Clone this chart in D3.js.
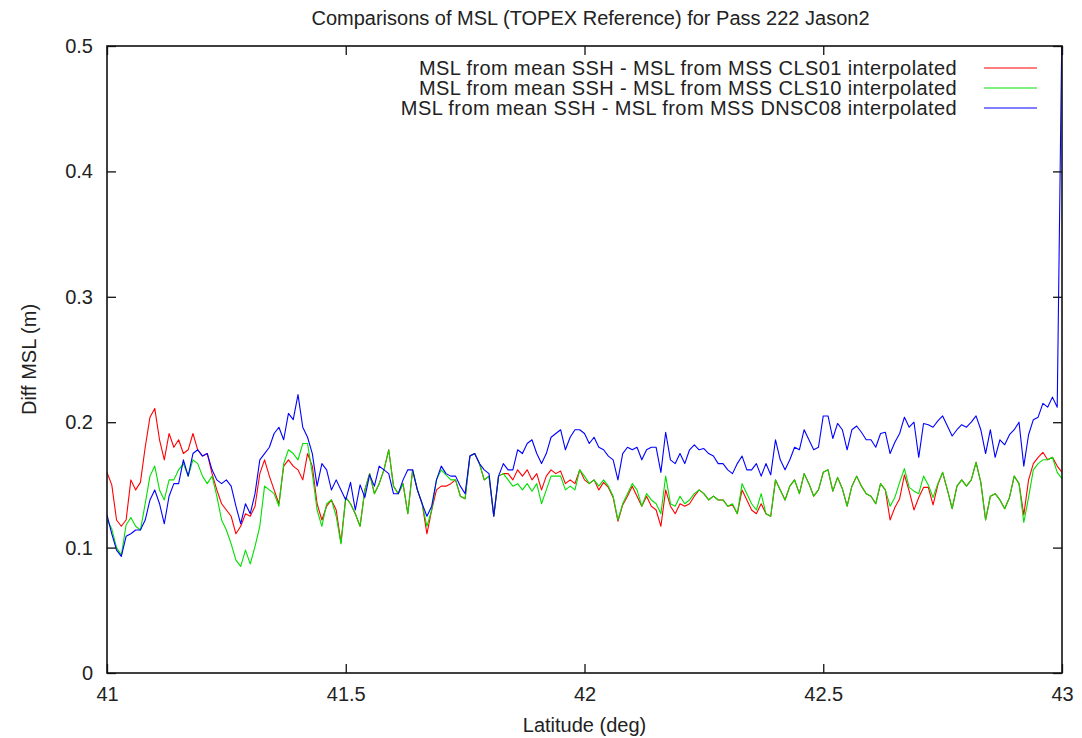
<!DOCTYPE html>
<html>
<head>
<meta charset="utf-8">
<script src="https://cdn.jsdelivr.net/npm/d3@7"></script>
<style>
  html, body { margin: 0; padding: 0; background: #fff; }
  svg { display: block; }
  text { font-family: "Liberation Sans", Arial, Helvetica, sans-serif; fill: #222; }
</style>
</head>
<body>
<svg id="chart" width="1082" height="738"></svg>
<script>
// Along-track latitude samples (deg), 0.01 deg spacing from 41 to 43
const latitudes = d3.range(201).map(i => +(41 + i * 0.01).toFixed(2));

// MSL from mean SSH minus MSL from MSS CLS01 interpolated (m)
const diffCLS01 = [
  0.160, 0.150, 0.122, 0.117, 0.122, 0.154, 0.146, 0.152, 0.180, 0.204,
  0.211, 0.186, 0.170, 0.191, 0.180, 0.186, 0.175, 0.178, 0.191, 0.178,
  0.173, 0.175, 0.159, 0.146, 0.135, 0.130, 0.125, 0.111, 0.117, 0.127,
  0.125, 0.133, 0.159, 0.170, 0.157, 0.146, 0.135, 0.165, 0.170, 0.165,
  0.162, 0.154, 0.175, 0.165, 0.135, 0.122, 0.133, 0.138, 0.130, 0.104,
  0.140,
  0.135, 0.127, 0.117, 0.146, 0.159, 0.143, 0.151, 0.162, 0.178, 0.149,
  0.143, 0.151, 0.127, 0.162, 0.146, 0.135, 0.111, 0.130, 0.146, 0.149,
  0.149, 0.151, 0.154, 0.141, 0.139, 0.173, 0.175, 0.167, 0.154, 0.157,
  0.125, 0.157, 0.159, 0.159, 0.154, 0.162, 0.157, 0.162, 0.154, 0.159,
  0.146, 0.157, 0.162, 0.159, 0.161, 0.151, 0.154, 0.151, 0.162, 0.154,
  0.151, 0.154, 0.146, 0.152, 0.148, 0.140, 0.121, 0.134, 0.141, 0.149,
  0.141, 0.133, 0.141, 0.133, 0.130, 0.117, 0.146, 0.133, 0.127, 0.135,
  0.133, 0.135, 0.141, 0.146, 0.143, 0.138, 0.141, 0.138, 0.138, 0.133,
  0.134, 0.127, 0.146, 0.138, 0.130, 0.127, 0.135, 0.127, 0.125, 0.154,
  0.146, 0.138, 0.149, 0.154, 0.143, 0.159, 0.151, 0.141, 0.146, 0.160,
  0.162, 0.145, 0.156, 0.147, 0.133, 0.149, 0.157, 0.149, 0.143, 0.141,
  0.135, 0.151, 0.146, 0.122, 0.132, 0.139, 0.158, 0.145, 0.130, 0.140,
  0.148, 0.148, 0.134, 0.150, 0.160, 0.146, 0.131, 0.149, 0.154, 0.149,
  0.154, 0.168, 0.152, 0.122, 0.141, 0.143, 0.138, 0.131, 0.140, 0.157,
  0.151, 0.126, 0.154, 0.167, 0.172, 0.176, 0.170, 0.172, 0.165, 0.160
];

// MSL from mean SSH minus MSL from MSS CLS10 interpolated (m)
const diffCLS10 = [
  0.122, 0.115, 0.100, 0.094, 0.118, 0.124, 0.117, 0.114, 0.135, 0.157,
  0.165, 0.146, 0.138, 0.154, 0.154, 0.162, 0.167, 0.157, 0.170, 0.167,
  0.157, 0.151, 0.157, 0.141, 0.122, 0.114, 0.103, 0.090, 0.085, 0.098,
  0.087, 0.101, 0.117, 0.149, 0.146, 0.143, 0.133, 0.167, 0.178, 0.175,
  0.170, 0.183, 0.183, 0.159, 0.130, 0.117, 0.135, 0.138, 0.125, 0.103,
  0.140,
  0.135, 0.127, 0.117, 0.146, 0.159, 0.143, 0.151, 0.162, 0.178, 0.149,
  0.143, 0.151, 0.127, 0.162, 0.146, 0.135, 0.117, 0.130, 0.154, 0.162,
  0.158, 0.154, 0.154, 0.141, 0.139, 0.173, 0.175, 0.167, 0.154, 0.157,
  0.125, 0.157, 0.159, 0.154, 0.149, 0.151, 0.146, 0.151, 0.145, 0.151,
  0.135, 0.146, 0.157, 0.157, 0.157, 0.146, 0.149, 0.146, 0.162, 0.157,
  0.151, 0.154, 0.149, 0.154, 0.149, 0.141, 0.122, 0.135, 0.143, 0.151,
  0.146, 0.133, 0.143, 0.138, 0.135, 0.127, 0.157, 0.135, 0.133, 0.141,
  0.135, 0.138, 0.143, 0.146, 0.143, 0.138, 0.141, 0.138, 0.138, 0.133,
  0.135, 0.127, 0.151, 0.143, 0.135, 0.130, 0.143, 0.127, 0.125, 0.154,
  0.146, 0.138, 0.149, 0.154, 0.143, 0.159, 0.151, 0.141, 0.146, 0.160,
  0.162, 0.145, 0.156, 0.147, 0.133, 0.149, 0.157, 0.149, 0.143, 0.141,
  0.135, 0.151, 0.146, 0.133, 0.140, 0.152, 0.163, 0.148, 0.145, 0.143,
  0.157, 0.150, 0.140, 0.151, 0.160, 0.146, 0.131, 0.149, 0.154, 0.149,
  0.154, 0.168, 0.152, 0.122, 0.141, 0.143, 0.138, 0.131, 0.140, 0.157,
  0.151, 0.120, 0.140, 0.162, 0.167, 0.170, 0.170, 0.172, 0.160, 0.155
];

// MSL from mean SSH minus MSL from MSS DNSC08 interpolated (m)
const diffDNSC08 = [
  0.126, 0.111, 0.098, 0.093, 0.109, 0.111, 0.114, 0.114, 0.122, 0.138,
  0.146, 0.135, 0.119, 0.141, 0.151, 0.151, 0.170, 0.157, 0.175, 0.178,
  0.173, 0.175, 0.162, 0.154, 0.151, 0.154, 0.149, 0.133, 0.119, 0.135,
  0.127, 0.143, 0.170, 0.175, 0.180, 0.191, 0.196, 0.186, 0.207, 0.202,
  0.222, 0.196, 0.188, 0.175, 0.149, 0.167, 0.162, 0.146, 0.154, 0.146,
  0.138,
  0.152, 0.130, 0.150, 0.140, 0.158, 0.149, 0.165, 0.162, 0.159, 0.143,
  0.143, 0.154, 0.162, 0.162, 0.146, 0.135, 0.125, 0.133, 0.154, 0.165,
  0.159, 0.157, 0.157, 0.149, 0.143, 0.173, 0.175, 0.167, 0.162, 0.159,
  0.125, 0.157, 0.167, 0.162, 0.162, 0.178, 0.175, 0.183, 0.186, 0.175,
  0.167, 0.175, 0.188, 0.191, 0.194, 0.178, 0.188, 0.194, 0.194, 0.191,
  0.183, 0.188, 0.180, 0.178, 0.173, 0.170, 0.154, 0.175, 0.180, 0.178,
  0.180, 0.170, 0.178, 0.180, 0.180, 0.160, 0.192, 0.170, 0.167, 0.175,
  0.167, 0.178, 0.182, 0.178, 0.179, 0.175, 0.173, 0.167, 0.167, 0.162,
  0.159, 0.167, 0.173, 0.162, 0.162, 0.167, 0.157, 0.167, 0.158, 0.186,
  0.170, 0.162, 0.170, 0.180, 0.178, 0.194, 0.186, 0.178, 0.180, 0.205,
  0.205, 0.187, 0.199, 0.194, 0.178, 0.194, 0.197, 0.192, 0.186, 0.186,
  0.180, 0.191, 0.192, 0.175, 0.184, 0.191, 0.204, 0.196, 0.200, 0.172,
  0.199, 0.198, 0.196, 0.201, 0.205, 0.197, 0.189, 0.194, 0.198, 0.196,
  0.200, 0.205, 0.194, 0.175, 0.194, 0.172, 0.186, 0.182, 0.190, 0.194,
  0.200, 0.165, 0.190, 0.202, 0.204, 0.215, 0.212, 0.220, 0.212, 0.520
];

const seriesNames = [
  "MSL from mean SSH - MSL from MSS CLS01 interpolated",
  "MSL from mean SSH - MSL from MSS CLS10 interpolated",
  "MSL from mean SSH - MSL from MSS DNSC08 interpolated"
];
const seriesColors = ["#ff0000", "#00e000", "#0000ff"];

const xTicks = [41, 41.5, 42, 42.5, 43];
const yTicks = [0, 0.1, 0.2, 0.3, 0.4, 0.5];

const titleText = "Comparisons of MSL (TOPEX Reference) for Pass 222 Jason2";
const xLabel = "Latitude (deg)";
const yLabel = "Diff MSL (m)";

// ---- layout ----
const plot = { left: 107, right: 1062, top: 46, bottom: 673 };
const svg = d3.select("#chart");

const x = d3.scaleLinear().domain([41, 43]).range([plot.left, plot.right]);
const y = d3.scaleLinear().domain([0, 0.5]).range([plot.bottom, plot.top]);

svg.append("defs").append("clipPath").attr("id", "plotClip")
  .append("rect")
  .attr("x", plot.left).attr("y", plot.top)
  .attr("width", plot.right - plot.left).attr("height", plot.bottom - plot.top);

// Series lines, drawn in gnuplot order (red, green, blue)
const allSeries = [diffCLS01, diffCLS10, diffDNSC08];
const line = d3.line()
  .x(d => x(d[0]))
  .y(d => y(d[1]));

const linesG = svg.append("g").attr("clip-path", "url(#plotClip)");
allSeries.forEach((vals, k) => {
  linesG.append("path")
    .datum(latitudes.map((lat, i) => [lat, vals[i]]))
    .attr("fill", "none")
    .attr("stroke", seriesColors[k])
    .attr("stroke-width", 1.1)
    .attr("stroke-linejoin", "round")
    .attr("d", line);
});

// Axes with inward ticks on all four sides
const tickLen = 9;
const axisBottom = d3.axisBottom(x).tickValues(xTicks).tickSize(-tickLen).tickPadding(14)
  .tickFormat(d3.format(""));
const axisTop = d3.axisTop(x).tickValues(xTicks).tickSize(-tickLen).tickFormat("");
const axisLeft = d3.axisLeft(y).tickValues(yTicks).tickSize(-tickLen).tickPadding(14)
  .tickFormat(d => d === 0 ? "0" : d3.format(".1f")(d));
const axisRight = d3.axisRight(y).tickValues(yTicks).tickSize(-tickLen).tickFormat("");

function styleAxis(g) {
  g.select(".domain").remove();
  g.selectAll(".tick line").attr("stroke", "#111").attr("stroke-width", 1.3);
  g.selectAll(".tick text")
    .attr("fill", "#222")
    .style("font-family", "'Liberation Sans', Arial, sans-serif")
    .style("font-size", "20px");
}

svg.append("g").attr("transform", `translate(0,${plot.bottom})`).call(axisBottom).call(styleAxis);
svg.append("g").attr("transform", `translate(0,${plot.top})`).call(axisTop).call(styleAxis);
svg.append("g").attr("transform", `translate(${plot.left},0)`).call(axisLeft).call(styleAxis);
svg.append("g").attr("transform", `translate(${plot.right},0)`).call(axisRight).call(styleAxis);

// Frame
svg.append("rect")
  .attr("x", plot.left).attr("y", plot.top)
  .attr("width", plot.right - plot.left).attr("height", plot.bottom - plot.top)
  .attr("fill", "none").attr("stroke", "#111").attr("stroke-width", 1.6);

// Title and axis labels
svg.append("text")
  .attr("x", (plot.left + plot.right) / 2 + 6).attr("y", 25)
  .attr("text-anchor", "middle").style("font-size", "20px")
  .text(titleText);

svg.append("text")
  .attr("x", (plot.left + plot.right) / 2).attr("y", 732)
  .attr("text-anchor", "middle").style("font-size", "20px")
  .text(xLabel);

svg.append("text")
  .attr("transform", `translate(36,${(plot.top + plot.bottom) / 2}) rotate(-90)`)
  .attr("text-anchor", "middle").style("font-size", "20px")
  .text(yLabel);

// Legend (top right, inside the plot)
const legend = svg.append("g");
seriesNames.forEach((name, k) => {
  const cy = 68 + k * 20;
  legend.append("text")
    .attr("x", 957).attr("y", cy).attr("dy", "0.35em")
    .attr("text-anchor", "end").style("font-size", "20px")
    .style("letter-spacing", "0.4px")
    .text(name);
  legend.append("line")
    .attr("x1", 984).attr("x2", 1037)
    .attr("y1", cy).attr("y2", cy)
    .attr("stroke", seriesColors[k]).attr("stroke-width", 1.1);
});
</script>
</body>
</html>
